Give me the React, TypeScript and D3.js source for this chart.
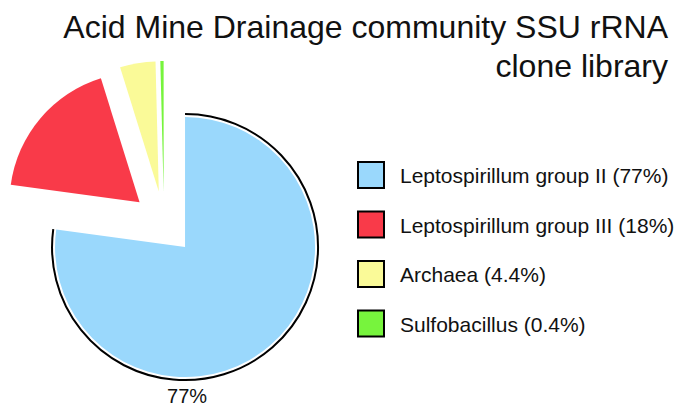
import React, { useEffect, useRef } from "react";
import * as d3 from "d3";

const groups = [
  "Leptospirillum group II",
  "Leptospirillum group III",
  "Archaea",
  "Sulfobacillus",
];
const shares = [77, 18, 4.4, 0.4];
const shareLabels = ["77%", "18%", "4.4%", "0.4%"];
const colors = ["#9ad8fc", "#f93a49", "#fafa98", "#77f43d"];
const titleLines = ["Acid Mine Drainage community SSU rRNA", "clone library"];

const FONT = "'Liberation Sans', Arial, Helvetica, sans-serif";

function clearNode(node: Element | null) {
  if (!node) return;
  while (node.firstChild) node.removeChild(node.firstChild);
}

export default function App() {
  const ref = useRef<SVGSVGElement | null>(null);

  useEffect(() => {
    document.body.style.margin = "0";
    renderPie(ref.current);
  }, []);

  return <svg ref={ref} width={680} height={406} style={{ display: "block", background: "#fff" }} />;
}

function renderPie(node: SVGSVGElement | null) {
  clearNode(node);
  const svg = d3.select(node);
  const width = 680;

  // title, right aligned
  svg
    .append("g")
    .selectAll("text")
    .data(titleLines)
    .join("text")
    .attr("x", width - 12)
    .attr("y", (d, i) => 38 + i * 39)
    .attr("text-anchor", "end")
    .style("font-family", FONT)
    .style("font-size", "32px")
    .style("fill", "#111")
    .text((d) => d);

  const data = groups.map((g, i) => ({ group: g, share: shares[i], label: shareLabels[i], color: colors[i] }));

  const radius = 130;
  const explode = 32;
  const cx = 164;
  const cy = 223;

  const pie = d3
    .pie<any>()
    .sort(null)
    .value((d) => d.share);
  const slices = pie(data);

  const arc = d3.arc<any>().innerRadius(0).outerRadius(radius);
  const rim = d3.arc<any>().innerRadius(radius + 3).outerRadius(radius + 3);

  const offset = (d: any) => {
    const mid = (d.startAngle + d.endAngle) / 2;
    return [Math.sin(mid) * explode, -Math.cos(mid) * explode];
  };

  const g = svg.append("g").attr("transform", `translate(${cx},${cy})`);

  const slice = g
    .selectAll("g.slice")
    .data(slices)
    .join("g")
    .attr("class", "slice")
    .attr("transform", (d) => {
      const [dx, dy] = offset(d);
      return `translate(${dx},${dy})`;
    });

  slice
    .append("path")
    .attr("d", arc)
    .attr("fill", (d) => d.data.color);

  // black rim only on the main slice
  slice
    .filter((d, i) => i === 0)
    .append("path")
    .attr("d", rim)
    .attr("fill", "none")
    .attr("stroke", "#000")
    .attr("stroke-width", 2);

  // label under the main slice
  slice
    .filter((d, i) => i === 0)
    .append("text")
    .attr("x", 2)
    .attr("y", radius + 26)
    .attr("text-anchor", "middle")
    .style("font-family", FONT)
    .style("font-size", "20px")
    .style("fill", "#111")
    .text((d) => d.data.label);

  // legend
  const legend = svg.append("g").attr("transform", "translate(358,162)");
  legend
    .selectAll("g")
    .data(data)
    .join("g")
    .attr("transform", (d, i) => `translate(0,${i * 49.5})`)
    .call((row) => {
      row
        .append("rect")
        .attr("width", 26)
        .attr("height", 26)
        .attr("fill", (d) => d.color)
        .attr("stroke", "#000")
        .attr("stroke-width", 2);
      row
        .append("text")
        .attr("x", 42)
        .attr("y", 21)
        .style("font-family", FONT)
        .style("font-size", "21px")
        .style("fill", "#111")
        .text((d) => `${d.group} (${d.label})`);
    });
}
